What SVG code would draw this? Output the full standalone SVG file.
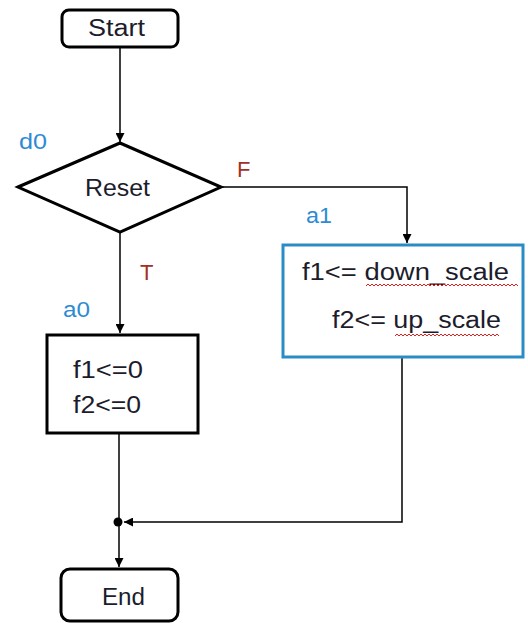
<svg xmlns="http://www.w3.org/2000/svg" width="528" height="623" viewBox="0 0 528 623">
<style>
.n{fill:#fff;stroke:#000;stroke-width:3}
.c{fill:none;stroke:#000;stroke-width:1.5}
.t{font-family:"Liberation Sans",Arial,sans-serif;font-size:23px;fill:#1c1c2c}
.l{font-family:"Liberation Sans",Arial,sans-serif;font-size:22px;fill:#2d8bd3}
.r{font-family:"Liberation Sans",Arial,sans-serif;font-size:22px;fill:#a33024}
.w{fill:none;stroke:#e02020;stroke-width:1}
</style>
<defs>
<marker id="ah" viewBox="0 0 10 10" refX="10" refY="5" markerWidth="9" markerHeight="9" markerUnits="userSpaceOnUse" orient="auto">
<path d="M0,0 L10,5 L0,10 z" fill="#000"/>
</marker>
</defs>
<rect width="528" height="623" fill="#fff"/>
<g id="connectors">
<line class="c" x1="120" y1="47" x2="120" y2="142" marker-end="url(#ah)"/>
<polyline class="c" points="221,187 407,187 407,243" marker-end="url(#ah)"/>
<line class="c" x1="120" y1="232" x2="120" y2="333" marker-end="url(#ah)"/>
<line class="c" x1="119" y1="433" x2="119" y2="567" marker-end="url(#ah)"/>
<polyline class="c" points="402,357 402,522 124,522" marker-end="url(#ah)"/>
<circle cx="118" cy="522" r="4.5" fill="#000"/>
</g>
<g id="start">
<rect class="n" x="62" y="10" width="116" height="37" rx="7"/>
<text class="t" x="88" y="36" textLength="57" lengthAdjust="spacingAndGlyphs">Start</text>
</g>
<g id="d0">
<polygon class="n" points="18,187 120,143 221,187 120,232"/>
<text class="t" x="85" y="196" textLength="65" lengthAdjust="spacingAndGlyphs">Reset</text>
<text class="l" x="19" y="149" textLength="28" lengthAdjust="spacingAndGlyphs">d0</text>
<text class="r" x="237" y="177">F</text>
<text class="r" x="140" y="280">T</text>
</g>
<g id="a1">
<rect x="283" y="245" width="240" height="112" fill="#fff" stroke="#2b8bc6" stroke-width="3"/>
<text class="l" x="306" y="223" textLength="26" lengthAdjust="spacingAndGlyphs">a1</text>
<text class="t" x="302" y="280" textLength="207" lengthAdjust="spacingAndGlyphs">f1&lt;= down_scale</text>
<text class="t" x="332" y="328" textLength="169" lengthAdjust="spacingAndGlyphs">f2&lt;= up_scale</text>
<path class="w" d="M366,286 l2,-2 l2,2 l2,-2 l2,2 l2,-2 l2,2 l2,-2 l2,2 l2,-2 l2,2 l2,-2 l2,2 l2,-2 l2,2 l2,-2 l2,2 l2,-2 l2,2 l2,-2 l2,2 l2,-2 l2,2 l2,-2 l2,2 l2,-2 l2,2 l2,-2 l2,2 l2,-2 l2,2 l2,-2 l2,2 l2,-2 l2,2 l2,-2 l2,2 l2,-2 l2,2 l2,-2 l2,2 l2,-2 l2,2 l2,-2 l2,2 l2,-2 l2,2 l2,-2 l2,2 l2,-2 l2,2 l2,-2 l2,2 l2,-2 l2,2 l2,-2 l2,2 l2,-2 l2,2 l2,-2 l2,2 l2,-2 l2,2 l2,-2 l2,2 l2,-2 l2,2 l2,-2 l2,2 l2,-2 l2,2 l2,-2 l2,2 l2,-2 l2,2 l2,-2 l2,2"/>
<path class="w" d="M395,336 l2,-2 l2,2 l2,-2 l2,2 l2,-2 l2,2 l2,-2 l2,2 l2,-2 l2,2 l2,-2 l2,2 l2,-2 l2,2 l2,-2 l2,2 l2,-2 l2,2 l2,-2 l2,2 l2,-2 l2,2 l2,-2 l2,2 l2,-2 l2,2 l2,-2 l2,2 l2,-2 l2,2 l2,-2 l2,2 l2,-2 l2,2 l2,-2 l2,2 l2,-2 l2,2 l2,-2 l2,2 l2,-2 l2,2 l2,-2 l2,2 l2,-2 l2,2 l2,-2 l2,2 l2,-2 l2,2 l2,-2 l2,2"/>
</g>
<g id="a0">
<rect class="n" x="47" y="335" width="151" height="98"/>
<text class="l" x="63" y="317" textLength="27" lengthAdjust="spacingAndGlyphs">a0</text>
<text class="t" x="73" y="378" textLength="70" lengthAdjust="spacingAndGlyphs">f1&lt;=0</text>
<text class="t" x="73" y="413" textLength="68" lengthAdjust="spacingAndGlyphs">f2&lt;=0</text>
</g>
<g id="end">
<rect class="n" x="61" y="569" width="117" height="52" rx="9"/>
<text class="t" x="102" y="605" textLength="43" lengthAdjust="spacingAndGlyphs">End</text>
</g>
</svg>
